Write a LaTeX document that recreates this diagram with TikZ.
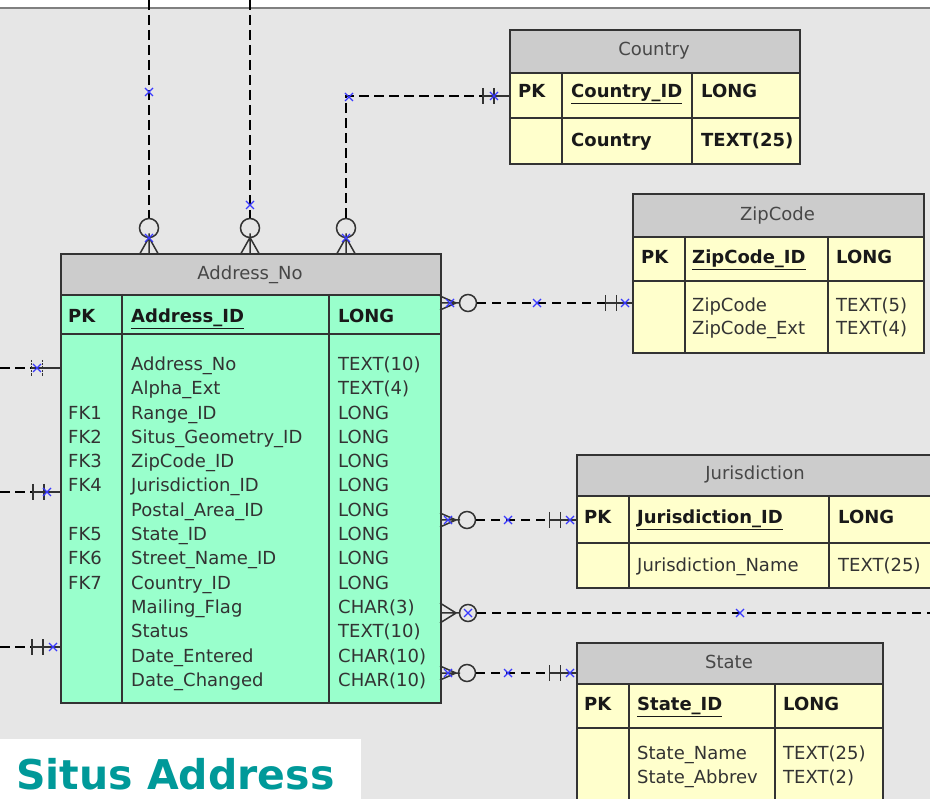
\documentclass[tikz,border=0pt]{standalone}
\usepackage{fontspec}
\setmainfont{DejaVu Sans}
\usetikzlibrary{positioning,calc}
\definecolor{bgc}{HTML}{E6E6E6}
\definecolor{hdrgray}{HTML}{CCCCCC}
\definecolor{tblgreen}{HTML}{99FFCC}
\definecolor{tblyellow}{HTML}{FFFFCC}
\definecolor{edge}{HTML}{333333}
\definecolor{tealtitle}{HTML}{009999}
\definecolor{xblue}{HTML}{3838FF}

\begin{document}
\begin{tikzpicture}[
                x=1pt, y=-1pt,
                font=\fontsize{18}{20}\selectfont,
                cell/.style={draw=edge, line width=1.6pt, inner sep=0pt, anchor=north west},
                hdr/.style={cell, fill=hdrgray},
                txt/.style={anchor=base west, inner sep=0pt, text=black!80},
                key/.style={txt, text=black!90, font=\fontsize{18}{20}\selectfont\bfseries},
                title/.style={anchor=base, inner sep=0pt, text=black!72},
                dashline/.style={draw=black, line width=2.4pt, dash pattern=on 10pt off 5pt},
                ln/.style={draw=edge, line width=1.5pt},
                ring/.style={circle, draw=edge, line width=1.5pt, fill=bgc, minimum size=17pt, inner sep=0pt},
                xm/.pic={
                    \draw[xblue, line width=1.1pt] (-4,-4) -- (4,4) (-4,4) -- (4,-4);
                },
                mandone/.pic={
                    \draw[ln] (-5.5,-8) -- (-5.5,8) (5.5,-8) -- (5.5,8) (-5.5,0) -- (5.5,0);
                },
                crow/.pic={
                    \draw[ln] (0,0) -- (-16,-#1) (0,0) -- (-16,0) (0,0) -- (-16,#1) (0,0) -- (4,0);
                }
            ]
                \useasboundingbox (0,0) rectangle (930,799);
                \clip (0,0) rectangle (930,799);
                \fill[bgc] (0,0) rectangle (930,799);
                \fill[white] (0,0) rectangle (930,7);
                \draw[black!50, line width=2.5pt] (0,8) -- (930,8);

                % Address_No
                \node[hdr, minimum width=380pt, minimum height=41pt] (addr-h) at (60,253) {};
                \node[cell, fill=tblgreen, minimum width=380pt, minimum height=39pt] (addr-k) at (60,294) {};
                \node[cell, fill=tblgreen, minimum width=380pt, minimum height=369pt] (addr-b) at (60,333) {};
                \draw[ln, line width=1.6pt] (122,294) -- (122,702) (329,294) -- (329,702);
                \node[title] (addr-t) at (250,279.5) {Address\_No};
                \node[key] (addr-pk) at (68,322.5) {PK};
                \node[key] (addr-id) at (131,322.5) {\underline{Address\_ID}};
                \node[key] (addr-ty) at (338,322.5) {LONG};
                \foreach [count=\i] \fk/\fname/\ftype in {{}/Address\_No/TEXT(10), {}/Alpha\_Ext/TEXT(4),
                        FK1/Range\_ID/LONG, FK2/Situs\_Geometry\_ID/LONG, FK3/ZipCode\_ID/LONG,
                        FK4/Jurisdiction\_ID/LONG, {}/Postal\_Area\_ID/LONG, FK5/State\_ID/LONG,
                        FK6/Street\_Name\_ID/LONG, FK7/Country\_ID/LONG, {}/Mailing\_Flag/CHAR(3),
                        {}/Status/TEXT(10), {}/Date\_Entered/CHAR(10), {}/Date\_Changed/CHAR(10)} {
                    \node[txt] (addr-fk\i) at (68,{346.2+24.3*\i}) {\fk};
                    \node[txt] (addr-n\i) at (131,{346.2+24.3*\i}) {\fname};
                    \node[txt] (addr-ft\i) at (338,{346.2+24.3*\i}) {\ftype};
                }

                % Country
                \node[hdr, minimum width=290pt, minimum height=43pt] (ctry-h) at (509,29) {};
                \node[cell, fill=tblyellow, minimum width=290pt, minimum height=45pt] (ctry-k) at (509,72) {};
                \node[cell, fill=tblyellow, minimum width=290pt, minimum height=46pt] (ctry-b) at (509,117) {};
                \draw[ln, line width=1.6pt] (562,72) -- (562,163) (692,72) -- (692,163);
                \node[title] (ctry-t) at (654,55.5) {Country};
                \node[key] (ctry-pk) at (518,97.5) {PK};
                \node[key] (ctry-id) at (571,97.5) {\underline{Country\_ID}};
                \node[key] (ctry-ty) at (701,97.5) {LONG};
                \node[key] (ctry-n1) at (571,146.5) {Country};
                \node[key] (ctry-t1) at (701,146.5) {TEXT(25)};

                % ZipCode
                \node[hdr, minimum width=291pt, minimum height=43pt] (zip-h) at (632,193) {};
                \node[cell, fill=tblyellow, minimum width=291pt, minimum height=44pt] (zip-k) at (632,236) {};
                \node[cell, fill=tblyellow, minimum width=291pt, minimum height=72pt] (zip-b) at (632,280) {};
                \draw[ln, line width=1.6pt] (685,236) -- (685,352) (828,236) -- (828,352);
                \node[title] (zip-t) at (777.5,220.5) {ZipCode};
                \node[key] (zip-pk) at (641,263.5) {PK};
                \node[key] (zip-id) at (692,263.5) {\underline{ZipCode\_ID}};
                \node[key] (zip-ty) at (836,263.5) {LONG};
                \node[txt] (zip-n1) at (692,311.5) {ZipCode};
                \node[txt] (zip-t1) at (836,311.5) {TEXT(5)};
                \node[txt] (zip-n2) at (692,335) {ZipCode\_Ext};
                \node[txt] (zip-t2) at (836,335) {TEXT(4)};

                % Jurisdiction
                \node[hdr, minimum width=358pt, minimum height=41pt] (jur-h) at (576,454) {};
                \node[cell, fill=tblyellow, minimum width=358pt, minimum height=47pt] (jur-k) at (576,495) {};
                \node[cell, fill=tblyellow, minimum width=358pt, minimum height=45pt] (jur-b) at (576,542) {};
                \draw[ln, line width=1.6pt] (629,495) -- (629,587) (829,495) -- (829,587);
                \node[title] (jur-t) at (755,479.5) {Jurisdiction};
                \node[key] (jur-pk) at (584,523.5) {PK};
                \node[key] (jur-id) at (637,523.5) {\underline{Jurisdiction\_ID}};
                \node[key] (jur-ty) at (838,523.5) {LONG};
                \node[txt] (jur-n1) at (637,571.5) {Jurisdiction\_Name};
                \node[txt] (jur-t1) at (838,571.5) {TEXT(25)};

                % State
                \node[hdr, minimum width=306pt, minimum height=41pt] (st-h) at (576,642) {};
                \node[cell, fill=tblyellow, minimum width=306pt, minimum height=44pt] (st-k) at (576,683) {};
                \node[cell, fill=tblyellow, minimum width=306pt, minimum height=88pt] (st-b) at (576,727) {};
                \draw[ln, line width=1.6pt] (629,683) -- (629,815) (775,683) -- (775,815);
                \node[title] (st-t) at (729,668.5) {State};
                \node[key] (st-pk) at (584,710.5) {PK};
                \node[key] (st-id) at (637,710.5) {\underline{State\_ID}};
                \node[key] (st-ty) at (783,710.5) {LONG};
                \node[txt] (st-n1) at (637,759.5) {State\_Name};
                \node[txt] (st-t1) at (783,759.5) {TEXT(25)};
                \node[txt] (st-n2) at (637,783.5) {State\_Abbrev};
                \node[txt] (st-t2) at (783,783.5) {TEXT(2)};

                % links on top
                \coordinate (top1) at (149,0);
                \coordinate (top2) at (250,0);
                \coordinate (bend) at (346,96);
                \coordinate (ctryH) at (488.5,96);
                \node[ring, minimum size=19pt] (r1) at (149,228) {};
                \node[ring, minimum size=19pt] (r2) at (250,228) {};
                \node[ring, minimum size=19pt] (r3) at (346,228) {};
                \draw[dashline] (top1) -- (r1);
                \draw[dashline] (top2) -- (r2);
                \draw[dashline] (r3) -- (bend) -- (ctryH);
                \draw[ln] (ctryH) -- (ctryH -| ctry-k.west);
                \path (ctryH) pic {mandone};
                \foreach \cx in {149,250,346}
                    \path (\cx,237.5) pic[rotate=90] {crow=9};

                % links on the left
                \coordinate (lft1) at (0,368);
                \coordinate (lft2) at (0,492);
                \coordinate (lft3) at (0,647);
                \coordinate (lh1) at (37,368);
                \coordinate (lh2) at (38.5,492);
                \coordinate (lh3) at (37.5,647);
                \foreach \k in {1,2,3} {
                    \draw[dashline] (lft\k) -- (lh\k);
                    \draw[ln] (lh\k) -- (lh\k -| addr-b.west);
                }
                \path (lh1) pic[densely dotted] {mandone};
                \path (lh2) pic {mandone};
                \path (lh3) pic {mandone};

                % links on the right
                \node[ring] (zr) at (468,303) {};
                \node[ring] (jr) at (467,520) {};
                \node[ring] (mr) at (468,613) {};
                \node[ring] (sr) at (467,673) {};
                \coordinate (zh) at (611,303);
                \coordinate (jh) at (555,520);
                \coordinate (sh) at (555,673);
                \coordinate (mend) at (932,613);
                \path (456,303) pic {crow=7};
                \path (456,520) pic {crow=7};
                \path (456,613) pic {crow=10};
                \path (456,673) pic {crow=7};
                \draw[dashline, dash pattern=on 9pt off 6pt] (zr) -- (zh);
                \draw[dashline, dash pattern=on 9pt off 6pt] (jr) -- (jh);
                \draw[dashline, dash pattern=on 9pt off 6pt] (sr) -- (sh);
                \draw[dashline, dash pattern=on 9pt off 6pt] (mr) -- (mend);
                \draw[ln] (zh) -- (zh -| zip-b.west);
                \draw[ln] (jh) -- (jh -| jur-k.west);
                \draw[ln] (sh) -- (sh -| st-h.west);
                \path (zh) pic {mandone};
                \path (jh) pic {mandone};
                \path (sh) pic {mandone};

                % blue markers
                \foreach \px/\py in {149/92, 149/238, 250/205, 349/97, 346/238, 494/96,
                        37/368, 47/492, 53/647,
                        450/303, 537/303, 625/303, 448/520, 508/520, 570/520,
                        468/613, 740/613, 448/673, 508/673, 570/673}
                    \path (\px,\py) pic {xm};

                % title
                \fill[white] (0,739) rectangle (361,799);
                \node[anchor=base west, inner sep=0pt, text=tealtitle, font=\fontsize{41}{43}\selectfont\bfseries] (ttl) at (16,789) {Situs Address};
            \end{tikzpicture}
\end{document}
